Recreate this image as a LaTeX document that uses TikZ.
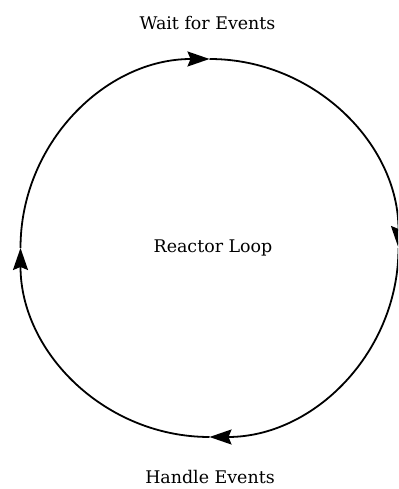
\documentclass[tikz,border=0pt]{standalone}
\usepackage{fontspec}
\setmainfont{DejaVu Serif}
\usetikzlibrary{arrows.meta}
\tikzset{
  loopedge/.style={-{Stealth[length=22bp,width=15bp,inset=3bp]}, line width=1.8bp},
  caption/.style={font=\fontsize{17.5}{20}\selectfont, inner sep=0pt, anchor=base}
}
\begin{document}
\begin{tikzpicture}[x=1bp,y=1bp]
  \useasboundingbox (0,0) rectangle (398,489);
  \clip (0,0) rectangle (398,489);
  \coordinate (hub) at (209.5,241);
  % the loop, four quarters, clockwise
  \draw[loopedge] (hub) ++(180:189) coordinate (west) arc[start angle=180, end angle=90, radius=189] coordinate (north);
  \draw[loopedge] (north) arc[start angle=90, end angle=0, radius=189] coordinate (east);
  \draw[loopedge] (east) arc[start angle=0, end angle=-90, radius=189] coordinate (south);
  \draw[loopedge] (south) arc[start angle=-90, end angle=-180, radius=189];
  % labels
  \node[caption] (wait) at (207.5,459) {Wait for Events};
  \node[caption] (reactor) at (213,236) {Reactor Loop};
  \node[caption] (handle) at (210,5) {Handle Events};
\end{tikzpicture}
\end{document}
